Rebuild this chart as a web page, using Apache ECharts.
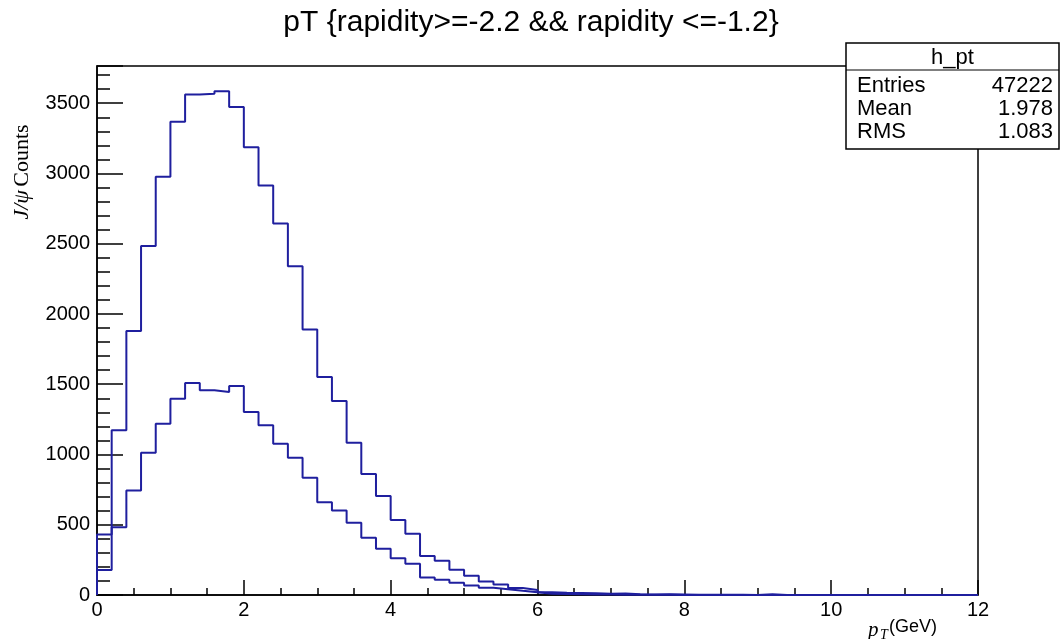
<!DOCTYPE html>
<html>
<head>
<meta charset="utf-8">
<script src="https://cdn.jsdelivr.net/npm/echarts@6/dist/echarts.min.js"></script>
<style>
  html, body { margin: 0; padding: 0; background: #fff; }
  #chart { width: 1062px; height: 639px; }
</style>
</head>
<body>
<div id="chart"></div>
<script>
// Histogram binning: 60 bins of 0.2 GeV from 0 to 12 GeV
const binStart = 0;
const binWidth = 0.2;

// h_pt: J/psi counts per pT bin, rapidity in [-2.2, -1.2]
const hPtCounts = [
  430, 1172, 1879, 2484, 2976, 3368, 3562, 3567, 3586, 3474,
  3187, 2914, 2644, 2340, 1889, 1551, 1380, 1084, 861, 704,
  533, 436, 277, 244, 179, 137, 96, 74, 50, 36,
  20, 16, 14, 12, 9, 11, 5, 3, 6, 4,
  2, 1, 2, 1, 0, 5, 0, 0, 0, 0,
  0, 0, 0, 0, 0, 0, 0, 0, 0, 0
];

// second, smaller distribution drawn on the same axes
const subsetCounts = [
  178, 483, 744, 1013, 1219, 1397, 1509, 1457, 1445, 1487,
  1302, 1208, 1077, 977, 835, 661, 602, 514, 407, 329,
  262, 222, 124, 108, 88, 68, 51, 41, 30, 20,
  9, 8, 6, 4, 3, 2, 1, 2, 1, 0,
  0, 0, 0, 0, 0, 0, 0, 0, 0, 0,
  0, 0, 0, 0, 0, 0, 0, 0, 0, 0
];

// Statistics box contents
const statsTitle = 'h_pt';
const statsNames = ['Entries', 'Mean', 'RMS'];
const statsValues = ['47222', '1.978', '1.083'];

const titleText = 'pT {rapidity>=-2.2 && rapidity <=-1.2}';
const yMax = 3765;

// Turn bin contents into left-edge points for a step outline
function stepPoints(counts) {
  const pts = [[binStart, 0]];
  counts.forEach((v, i) => pts.push([binStart + i * binWidth, v]));
  pts.push([binStart + counts.length * binWidth, counts[counts.length - 1]]);
  pts.push([binStart + counts.length * binWidth, 0]);
  return pts;
}

const lineColor = '#1f1f9e';
const sansFont = '"Liberation Sans", Arial, sans-serif';
const serifFont = '"Liberation Serif", "DejaVu Serif", serif';
const chart = echarts.init(document.getElementById('chart'), null, { renderer: 'canvas' });

const statsGraphics = [];
const boxLeft = 846, boxTop = 43, boxRight = 1059, boxBottom = 149, headerY = 70;
statsGraphics.push({
  type: 'rect', shape: { x: boxLeft, y: boxTop, width: boxRight - boxLeft, height: boxBottom - boxTop },
  style: { fill: '#fff', stroke: '#000', lineWidth: 1.5 }, z: 10
});
statsGraphics.push({
  type: 'line', shape: { x1: boxLeft, y1: headerY, x2: boxRight, y2: headerY },
  style: { stroke: '#000', lineWidth: 1 }, z: 11
});
statsGraphics.push({
  type: 'text', x: (boxLeft + boxRight) / 2, y: (boxTop + headerY) / 2 + 1,
  style: { text: statsTitle, font: '22px ' + sansFont, fill: '#000', align: 'center', verticalAlign: 'middle' }, z: 12
});
const rowYs = [86, 109, 132];
statsNames.forEach((name, i) => {
  statsGraphics.push({
    type: 'text', x: boxLeft + 11, y: rowYs[i],
    style: { text: name, font: '22px ' + sansFont, fill: '#000', align: 'left', verticalAlign: 'middle' }, z: 12
  });
  statsGraphics.push({
    type: 'text', x: boxRight - 6, y: rowYs[i],
    style: { text: statsValues[i], font: '22px ' + sansFont, fill: '#000', align: 'right', verticalAlign: 'middle' }, z: 12
  });
});

const option = {
  backgroundColor: '#fff',
  animation: false,
  title: {
    text: titleText,
    left: 'center',
    top: 3,
    textStyle: { fontFamily: sansFont, fontSize: 30, fontWeight: 'normal', color: '#000' }
  },
  grid: {
    left: 97, right: 84, top: 66, bottom: 44,
    show: true, borderColor: '#000', borderWidth: 1.5, backgroundColor: 'transparent'
  },
  xAxis: {
    type: 'value', min: 0, max: 12, interval: 2,
    axisLine: { show: true, onZero: false, lineStyle: { color: '#000', width: 1.5 } },
    axisTick: { show: true, inside: true, length: 15, lineStyle: { color: '#000', width: 1.5 } },
    minorTick: { show: true, splitNumber: 4, length: 7, lineStyle: { color: '#000', width: 1.5 } },
    splitLine: { show: false },
    axisLabel: { color: '#000', fontSize: 20, fontFamily: sansFont, margin: 5 }
  },
  yAxis: {
    type: 'value', min: 0, max: yMax, interval: 500,
    axisLine: { show: true, lineStyle: { color: '#000', width: 1.5 } },
    axisTick: { show: true, inside: true, length: 26, lineStyle: { color: '#000', width: 1.5 } },
    minorTick: { show: true, splitNumber: 5, length: 13, lineStyle: { color: '#000', width: 1.5 } },
    splitLine: { show: false },
    axisLabel: {
      color: '#000', fontSize: 20, fontFamily: sansFont, margin: 7, showMaxLabel: false,
      formatter: (v) => String(v)
    }
  },
  series: [
    {
      name: 'h_pt', type: 'line', step: 'end', data: stepPoints(hPtCounts),
      showSymbol: false, lineStyle: { color: lineColor, width: 2 }, z: 3
    },
    {
      name: 'subset', type: 'line', step: 'end', data: stepPoints(subsetCounts),
      showSymbol: false, lineStyle: { color: lineColor, width: 2 }, z: 3
    }
  ],
  graphic: [
    {
      type: 'text', x: 22, y: 172, rotation: Math.PI / 2,
      style: {
        text: '{j|J/ψ} {c|Counts}',
        align: 'center', verticalAlign: 'middle',
        rich: {
          j: { fontFamily: serifFont, fontStyle: 'italic', fontSize: 22, fill: '#000' },
          c: { fontFamily: serifFont, fontSize: 22, fill: '#000' }
        }
      }
    },
    {
      type: 'text', x: 868, y: 630,
      style: { text: 'p', font: 'italic 21px ' + serifFont, fill: '#000', align: 'left', verticalAlign: 'middle' }
    },
    {
      type: 'text', x: 880, y: 635,
      style: { text: 'T', font: 'italic 14px ' + serifFont, fill: '#000', align: 'left', verticalAlign: 'middle' }
    },
    {
      type: 'text', x: 889, y: 627,
      style: { text: '(GeV)', font: '18px ' + sansFont, fill: '#000', align: 'left', verticalAlign: 'middle' }
    }
  ].concat(statsGraphics)
};

chart.setOption(option);
</script>
</body>
</html>
